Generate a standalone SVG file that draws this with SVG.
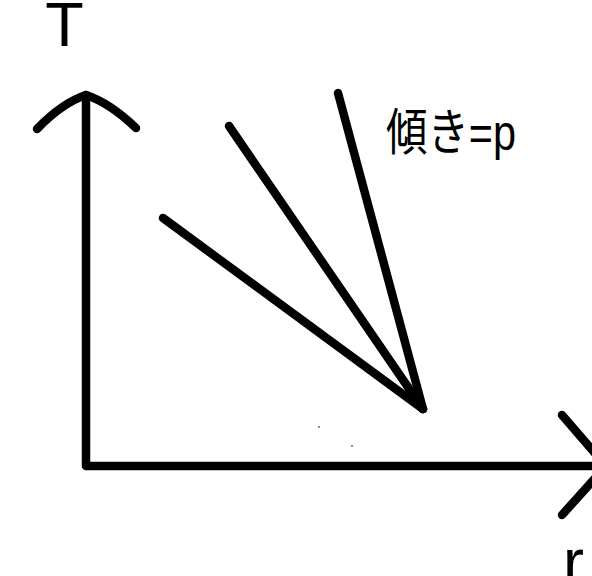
<svg xmlns="http://www.w3.org/2000/svg" width="592" height="576" viewBox="0 0 592 576">
  <style>
    .stk { fill: none; stroke: #000; stroke-width: 8.5; stroke-linecap: round; stroke-linejoin: round; }
    .lbl { font-family: "Liberation Sans", "Noto Sans CJK JP", sans-serif; fill: #000; }
  </style>
  <rect width="592" height="576" fill="#fff"/>
  <g id="axis-T">
    <path class="stk" d="M86,466 L86,95"/>
    <path class="stk" d="M37,129 Q62,103 86,95 Q110,103 136,128"/>
    <text class="lbl" x="64.5" y="46" font-size="63" text-anchor="middle">T</text>
  </g>
  <g id="axis-r">
    <path class="stk" style="stroke-linecap:butt" d="M86,466 L600,466"/>
    <path class="stk" d="M562,415 L606,466 L562,515"/>
    <text class="lbl" x="563" y="583" font-size="63">r</text>
  </g>
  <g id="connectors">
    <path class="stk" d="M163,218 L423,409"/>
    <path class="stk" d="M229,126 L423,409"/>
    <path class="stk" d="M338,93 L423,409"/>
  </g>
  <g id="label-slope">
    <text class="lbl" x="386" y="150" font-size="50" textLength="130" lengthAdjust="spacingAndGlyphs">傾き=p</text>
  </g>
  <g id="specks" fill="#555">
    <circle cx="319" cy="427" r="0.9"/>
    <circle cx="352" cy="446" r="0.9"/>
  </g>
</svg>
